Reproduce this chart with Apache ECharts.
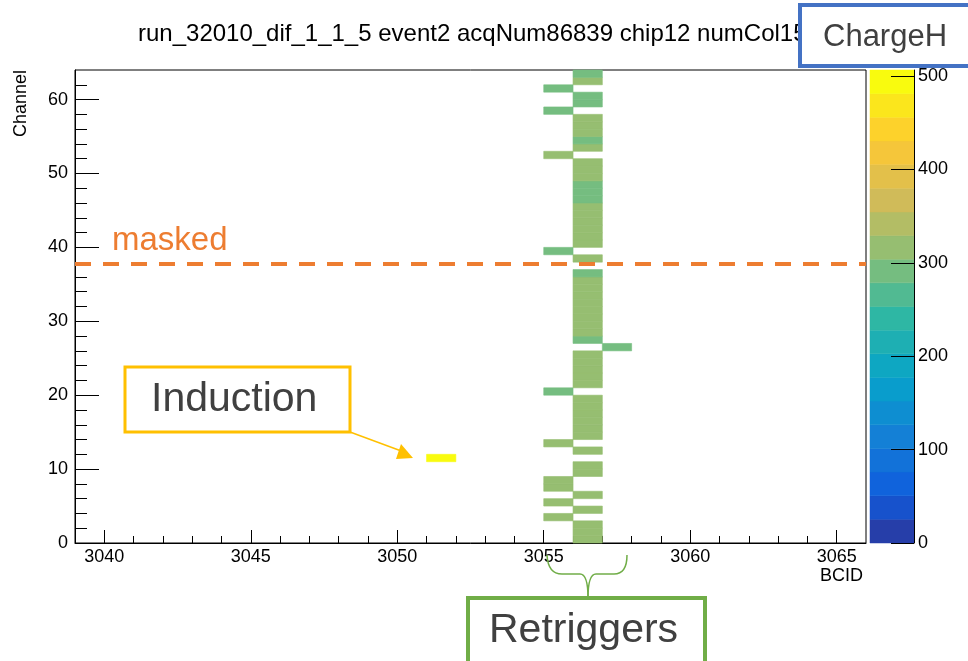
<!DOCTYPE html>
<html>
<head>
<meta charset="utf-8">
<script src="https://cdn.jsdelivr.net/npm/echarts@6/dist/echarts.min.js"></script>
<style>
  html, body { margin: 0; padding: 0; background: #ffffff; }
  #chart { width: 968px; height: 661px; }
</style>
</head>
<body>
<div id="chart"></div>
<script>
// ---- Event hits: lower edge of BCID bin, channel bin, ChargeH value ----
const hitBcid = [
  3051,
  3055, 3055, 3055, 3055, 3055, 3055, 3055, 3055, 3055, 3055,
  3057,
  3056, 3056, 3056, 3056, 3056, 3056, 3056, 3056, 3056, 3056,
  3056, 3056, 3056, 3056, 3056, 3056, 3056, 3056, 3056, 3056,
  3056, 3056, 3056, 3056, 3056, 3056, 3056, 3056, 3056, 3056,
  3056, 3056, 3056, 3056, 3056, 3056, 3056, 3056, 3056, 3056,
  3056, 3056, 3056, 3056, 3056, 3056, 3056, 3056, 3056, 3056, 3056
];
const hitChannel = [
  11,
  3, 5, 7, 8, 13, 20, 39, 52, 58, 61,
  26,
  0, 1, 2, 4, 6, 9, 10, 12, 14, 15,
  16, 17, 18, 19, 21, 22, 23, 24, 25, 27,
  28, 29, 30, 31, 32, 33, 34, 35, 36, 38,
  40, 41, 42, 43, 44, 45, 46, 47, 48, 49,
  50, 51, 53, 54, 55, 56, 57, 59, 60, 62, 63
];
const hitCharge = [
  506,
  314, 311, 317, 313, 309, 292, 289, 318, 294, 288,
  290,
  316, 312, 319, 315, 310, 317, 313, 320, 314, 316,
  311, 318, 315, 312, 316, 319, 313, 317, 314, 291,
  315, 312, 318, 316, 313, 317, 311, 315, 293, 316,
  314, 318, 312, 316, 315, 319, 290, 294, 288, 313,
  317, 314, 316, 292, 315, 318, 312, 289, 295, 316, 287
];

// ---- Axis ticks ----
const xTickValues = [3040, 3045, 3050, 3055, 3060, 3065];
const xMinorTicks = [3041, 3042, 3043, 3044, 3046, 3047, 3048, 3049, 3051, 3052, 3053, 3054,
                     3056, 3057, 3058, 3059, 3061, 3062, 3063, 3064];
const yTickValues = [0, 10, 20, 30, 40, 50, 60];
const yMinorTicks = [2, 4, 6, 8, 12, 14, 16, 18, 22, 24, 26, 28, 32, 34, 36, 38,
                     42, 44, 46, 48, 52, 54, 56, 58, 62];
const zTickValues = [0, 100, 200, 300, 400, 500];

const xRange = [3039, 3066];
const yRange = [0, 64];
const zMax = 506.5;
const nLevels = 20;
const maskedLevel = 37.75;

// ---- ROOT "bird" palette ----
const birdStops = [0.0, 0.125, 0.25, 0.375, 0.5, 0.625, 0.75, 0.875, 1.0];
const birdR = [0.2082, 0.0592, 0.0780, 0.0232, 0.1802, 0.5301, 0.8186, 0.9956, 0.9764];
const birdG = [0.1664, 0.3599, 0.5041, 0.6419, 0.7178, 0.7492, 0.7328, 0.7862, 0.9832];
const birdB = [0.5293, 0.8684, 0.8385, 0.7914, 0.6425, 0.4662, 0.3499, 0.1968, 0.0539];

function birdColor(f) {
  let k = 0;
  while (k < birdStops.length - 2 && f > birdStops[k + 1]) k++;
  const t = (f - birdStops[k]) / (birdStops[k + 1] - birdStops[k]);
  const ch = arr => Math.round(255 * (arr[k] + (arr[k + 1] - arr[k]) * t));
  return 'rgb(' + ch(birdR) + ',' + ch(birdG) + ',' + ch(birdB) + ')';
}
const levelColors = [];
for (let i = 0; i < nLevels; i++) levelColors.push(birdColor((i + 0.99) / nLevels));

function chargeColor(v) {
  let i = Math.floor(v / zMax * nLevels);
  i = Math.max(0, Math.min(nLevels - 1, i));
  return levelColors[i];
}

const hitData = hitBcid.map((b, i) => [b, hitChannel[i], hitCharge[i]]);
const levelData = levelColors.map((c, i) => [i]);

const FONT = 'Liberation Sans';
const plainNumber = v => String(v);
const chart = echarts.init(document.getElementById('chart'), null, { renderer: 'canvas' });

chart.setOption({
  animation: false,
  backgroundColor: '#ffffff',
  textStyle: { fontFamily: FONT },
  title: {
    text: 'run_32010_dif_1_1_5 event2 acqNum86839 chip12 numCol15',
    left: 133, top: 17,
    textStyle: { fontFamily: FONT, fontSize: 24, fontWeight: 'normal', color: '#000' }
  },
  grid: [
    { left: 75, top: 70, width: 791, height: 473, show: true, borderColor: '#000', borderWidth: 1, backgroundColor: 'transparent' },
    { left: 870, top: 70, width: 44, height: 473, show: false }
  ],
  xAxis: [
    {
      gridIndex: 0, type: 'value', min: xRange[0], max: xRange[1], position: 'bottom',
      axisLine: { show: true, onZero: false, lineStyle: { color: '#000', width: 1 } },
      axisTick: { show: true, inside: true, length: 13, customValues: xTickValues, lineStyle: { color: '#000' } },
      axisLabel: { show: true, customValues: xTickValues, formatter: plainNumber, fontSize: 18, color: '#000', margin: 5, fontFamily: FONT },
      splitLine: { show: false }
    },
    {
      gridIndex: 0, type: 'value', min: xRange[0], max: xRange[1], position: 'bottom',
      axisLine: { show: false, onZero: false },
      axisTick: { show: true, inside: true, length: 7, customValues: xMinorTicks, lineStyle: { color: '#000' } },
      axisLabel: { show: false },
      splitLine: { show: false }
    },
    {
      gridIndex: 1, type: 'value', min: 0, max: 1, show: false
    }
  ],
  yAxis: [
    {
      gridIndex: 0, type: 'value', min: yRange[0], max: yRange[1], position: 'left',
      axisLine: { show: true, onZero: false, lineStyle: { color: '#000', width: 1 } },
      axisTick: { show: true, inside: true, length: 24, customValues: yTickValues, lineStyle: { color: '#000' } },
      axisLabel: { show: true, customValues: yTickValues, formatter: plainNumber, fontSize: 18, color: '#000', margin: 7, fontFamily: FONT },
      splitLine: { show: false }
    },
    {
      gridIndex: 0, type: 'value', min: yRange[0], max: yRange[1], position: 'left',
      axisLine: { show: false, onZero: false },
      axisTick: { show: true, inside: true, length: 12, customValues: yMinorTicks, lineStyle: { color: '#000' } },
      axisLabel: { show: false },
      splitLine: { show: false }
    },
    {
      gridIndex: 1, type: 'value', min: 0, max: zMax, position: 'right',
      axisLine: { show: true, onZero: false, lineStyle: { color: '#000', width: 1 } },
      axisTick: { show: true, inside: true, length: 23, customValues: zTickValues, lineStyle: { color: '#000' } },
      axisLabel: { show: true, customValues: zTickValues, formatter: plainNumber, fontSize: 18, color: '#000', margin: 4, fontFamily: FONT },
      splitLine: { show: false },
      z: 5
    }
  ],
  series: [
    {
      // colour-filled channel x BCID cells
      type: 'custom',
      xAxisIndex: 0, yAxisIndex: 0,
      data: hitData,
      encode: { x: 0, y: 1 },
      renderItem: function (params, api) {
        const x = api.value(0), y = api.value(1);
        const p0 = api.coord([x, y + 1]);
        const p1 = api.coord([x + 1, y]);
        const c = chargeColor(api.value(2));
        return {
          type: 'rect',
          shape: { x: p0[0], y: p0[1], width: p1[0] - p0[0], height: p1[1] - p0[1] },
          style: { fill: c, stroke: c, lineWidth: 0.6 }
        };
      },
      markLine: {
        silent: true,
        symbol: 'none',
        label: { show: false },
        lineStyle: { color: '#ED7D31', width: 4, type: [16, 12] },
        data: [{ yAxis: maskedLevel }]
      },
      z: 2
    },
    {
      // palette bar
      type: 'custom',
      xAxisIndex: 2, yAxisIndex: 2,
      data: levelData,
      renderItem: function (params, api) {
        const i = api.value(0);
        const lo = zMax * i / nLevels, hi = zMax * (i + 1) / nLevels;
        const p0 = api.coord([0, hi]);
        const p1 = api.coord([1, lo]);
        return {
          type: 'rect',
          shape: { x: p0[0], y: p0[1], width: p1[0] - p0[0], height: p1[1] - p0[1] },
          style: { fill: levelColors[i], stroke: levelColors[i], lineWidth: 0.5 }
        };
      },
      z: 1
    }
  ],
  graphic: [
    { type: 'text', x: 820, y: 567, style: { text: 'BCID', fontSize: 18, fill: '#000', fontFamily: FONT } },
    { type: 'text', rotation: Math.PI / 2, x: 12, y: 137, style: { text: 'Channel', fontSize: 18, fill: '#000', fontFamily: FONT } },
    // label boxes and notes
    { type: 'rect', z: 100, shape: { x: 800, y: 5, width: 175, height: 61 },
      style: { fill: '#ffffff', stroke: '#4472C4', lineWidth: 4 } },
    { type: 'text', z: 101, x: 823, y: 22, style: { text: 'ChargeH', fontSize: 31, fill: '#404040', fontFamily: FONT } },
    { type: 'text', z: 101, x: 112, y: 224, style: { text: 'masked', fontSize: 33, fill: '#ED7D31', fontFamily: FONT } },
    { type: 'rect', z: 100, shape: { x: 125, y: 367, width: 225, height: 65 },
      style: { fill: '#ffffff', stroke: '#FFC000', lineWidth: 3 } },
    { type: 'text', z: 101, x: 151, y: 379, style: { text: 'Induction', fontSize: 41, fill: '#404040', fontFamily: FONT } },
    { type: 'line', z: 100, shape: { x1: 350, y1: 432, x2: 404, y2: 452 },
      style: { stroke: '#FFC000', lineWidth: 1.5 } },
    { type: 'polygon', z: 100, shape: { points: [[413, 458], [401, 444], [396, 459]] },
      style: { fill: '#FFC000' } },
    // curly brace under the retriggered columns
    { type: 'bezierCurve', z: 100, shape: { x1: 547, y1: 555, cpx1: 548, cpy1: 574, x2: 562, y2: 574 },
      style: { fill: 'none', stroke: '#70AD47', lineWidth: 1.5 } },
    { type: 'line', z: 100, shape: { x1: 562, y1: 574, x2: 580, y2: 574 },
      style: { stroke: '#70AD47', lineWidth: 1.5 } },
    { type: 'bezierCurve', z: 100, shape: { x1: 580, y1: 574, cpx1: 588, cpy1: 574, x2: 588, y2: 598 },
      style: { fill: 'none', stroke: '#70AD47', lineWidth: 1.5 } },
    { type: 'bezierCurve', z: 100, shape: { x1: 588, y1: 598, cpx1: 588, cpy1: 574, x2: 596, y2: 574 },
      style: { fill: 'none', stroke: '#70AD47', lineWidth: 1.5 } },
    { type: 'line', z: 100, shape: { x1: 596, y1: 574, x2: 614, y2: 574 },
      style: { stroke: '#70AD47', lineWidth: 1.5 } },
    { type: 'bezierCurve', z: 100, shape: { x1: 614, y1: 574, cpx1: 627, cpy1: 574, x2: 627, y2: 555 },
      style: { fill: 'none', stroke: '#70AD47', lineWidth: 1.5 } },
    { type: 'rect', z: 100, shape: { x: 468, y: 598, width: 237, height: 70 },
      style: { fill: '#ffffff', stroke: '#70AD47', lineWidth: 4 } },
    { type: 'text', z: 101, x: 489, y: 610, style: { text: 'Retriggers', fontSize: 41, fill: '#404040', fontFamily: FONT } }
  ]
});
</script>
</body>
</html>
